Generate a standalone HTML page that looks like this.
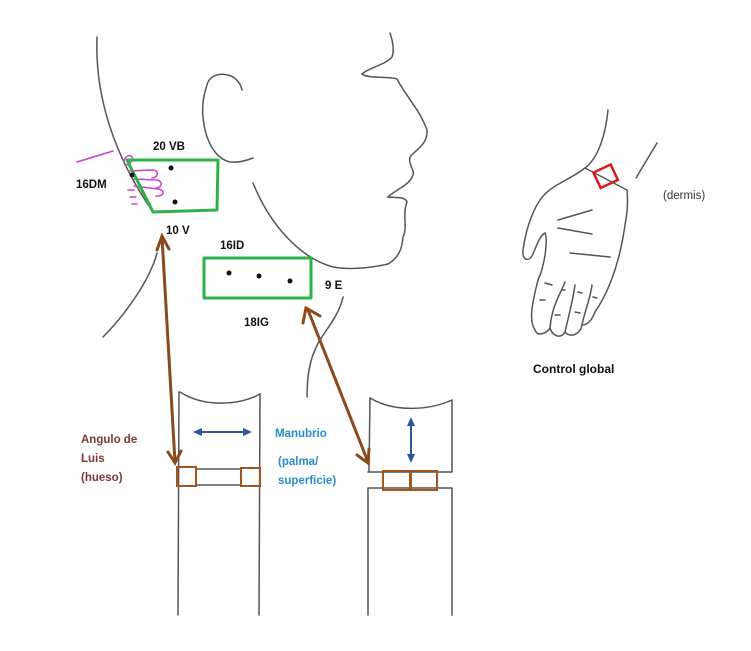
<!DOCTYPE html>
<html><head><meta charset="utf-8"><style>
html,body{margin:0;padding:0;background:#fff;}
svg{display:block;}
text{font-family:"Liberation Sans",sans-serif;font-weight:bold;}
</style></head><body>
<svg width="751" height="651" viewBox="0 0 751 651" xmlns="http://www.w3.org/2000/svg">
<rect width="751" height="651" fill="#fff"/>
<g fill="none" stroke="#555" stroke-width="1.5" stroke-linecap="round">
<!-- back of head -->
<path d="M97,37 C95,90 110,150 153,212"/>
<path d="M157,253 C150,280 125,315 103,337"/>
<!-- ear -->
<path d="M242,90 C238,70 210,70 207,85 C200,105 203,120 205,130 C210,150 220,160 230,162 C240,163 248,160 253,158"/>
<!-- face -->
<path d="M390,33 C394,45 394,52 392,57 C385,65 368,68 362,74 C368,79 390,76 397,79 C405,95 420,110 427,130 C428,145 415,150 410,157 C408,165 415,170 413,175 C410,185 395,190 388,197 C395,198 405,196 407,202 C402,215 408,228 403,237 C402,250 398,258 388,264 C370,268 350,270 333,267 C300,258 270,225 253,183"/>
<!-- throat -->
<path d="M343,297 C338,320 320,335 315,350 C308,365 307,385 307,397"/>
<!-- sternum 1 -->
<path d="M180,392 C205,408 240,405 260,394"/>
<path d="M179,392 L178,615 M260,394 L259,615"/>
<path d="M196,469 L241,469 M196,485 L241,485"/>
<!-- sternum 2 -->
<path d="M370,398 C395,413 430,410 452,400"/>
<path d="M370,398 L369,471 M452,400 L452,472 M368,472 L452,472"/>
<path d="M369,488 L452,488 M368,488 L368,615 M452,488 L452,615"/>
<!-- hand -->
<path d="M608,110 C605,140 596,160 585,168 C570,180 550,185 540,200 C530,215 525,235 523,250 C522,260 528,262 532,256 C537,245 540,235 545,233 C548,240 545,265 538,280 C533,300 528,320 535,330 C538,338 548,332 550,328 C552,335 560,340 565,332 C570,338 580,335 582,325 C588,325 592,320 595,312 C610,290 620,260 625,225 C628,210 628,200 627,190"/>
<path d="M657,143 L636,178"/>
<path d="M585,168 L627,190"/>
<path d="M558,220 L592,210 M558,228 L592,234 M570,253 L610,257"/>
<path d="M545,283 L552,285 M562,290 L565,290 M578,292 L582,293 M593,297 L597,298 M540,300 L545,300 M555,315 L560,315 M575,312 L580,313"/>
<path d="M550,328 C552,305 560,295 565,282 M565,332 C570,310 573,300 575,285 M582,325 C585,310 590,300 592,285"/>
</g>
<!-- magenta -->
<g fill="none" stroke="#cc44cc" stroke-width="1.5" stroke-linecap="round">
<path d="M77,162 L113,151"/>
<path d="M124,161 C125,156 130,154 132,157 C134,162 128,165 125,165"/>
<path d="M128,171 L152,170 C160,170 158,178 152,178 M134,179 L156,180 C164,181 162,188 156,188 M134,186 L158,189 C166,190 164,197 156,196"/>
<path d="M128,190 L134,190 M130,197 L136,197 M132,204 L137,204"/>
</g>
<!-- green boxes -->
<g fill="none" stroke="#2db24a" stroke-width="3" stroke-linejoin="round">
<path d="M127,160 L218,160 L217,210 L153,212 Z"/>
<rect x="204" y="258" width="107" height="40"/>
</g>
<g fill="#111">
<circle cx="171" cy="168" r="2.5"/><circle cx="132" cy="175" r="2.5"/><circle cx="175" cy="202" r="2.5"/>
<circle cx="229" cy="273" r="2.5"/><circle cx="259" cy="276" r="2.5"/><circle cx="290" cy="281" r="2.5"/>
</g>
<!-- brown arrows -->
<g stroke="#8a4a1e" stroke-width="3" fill="none" stroke-linecap="round">
<path d="M162,237 L175,462"/>
<path d="M157,250 L162,236 L169,249"/>
<path d="M168,452 L175,463 L181,451"/>
<path d="M308,310 L368,462"/>
<path d="M303,323 L306,308 L320,316"/>
<path d="M357,455 L368,463 L369,449"/>
</g>
<g fill="none" stroke="#a0561e" stroke-width="2">
<rect x="177" y="467" width="19" height="19"/>
<rect x="241" y="468" width="19" height="18"/>
<rect x="383" y="471" width="27" height="19"/>
<rect x="411" y="471" width="26" height="19"/>
</g>
<!-- blue arrows -->
<g stroke="#2c55a0" stroke-width="2" fill="#2c55a0">
<line x1="196" y1="432" x2="249" y2="432"/>
<path d="M193,432 L202,428 L202,436 Z" stroke="none"/>
<path d="M252,432 L243,428 L243,436 Z" stroke="none"/>
<line x1="411" y1="421" x2="411" y2="459"/>
<path d="M411,417 L407,426 L415,426 Z" stroke="none"/>
<path d="M411,463 L407,454 L415,454 Z" stroke="none"/>
</g>
<!-- red square -->
<rect x="596" y="168" width="19" height="17" fill="none" stroke="#dd1a1a" stroke-width="2.5" transform="rotate(-25 605 176)"/>
<!-- labels -->
<g font-size="11.5" fill="#111">
<text x="153" y="150">20 VB</text>
<text x="76" y="188">16DM</text>
<text x="166" y="234">10 V</text>
<text x="220" y="249">16ID</text>
<text x="325" y="289">9 E</text>
<text x="244" y="326">18IG</text>
<text x="533" y="373" font-size="12">Control global</text>
</g>
<text x="663" y="199" font-size="11.5" font-weight="normal" style="font-weight:normal" fill="#333">(dermis)</text>
<g font-size="11.5" fill="#7a3a32">
<text x="81" y="443">Angulo de</text>
<text x="81" y="462">Luis</text>
<text x="81" y="481">(hueso)</text>
</g>
<g font-size="11.5" fill="#2a8ccc">
<text x="275" y="437">Manubrio</text>
<text x="278" y="465">(palma/</text>
<text x="278" y="484">superficie)</text>
</g>
</svg>
</body></html>
